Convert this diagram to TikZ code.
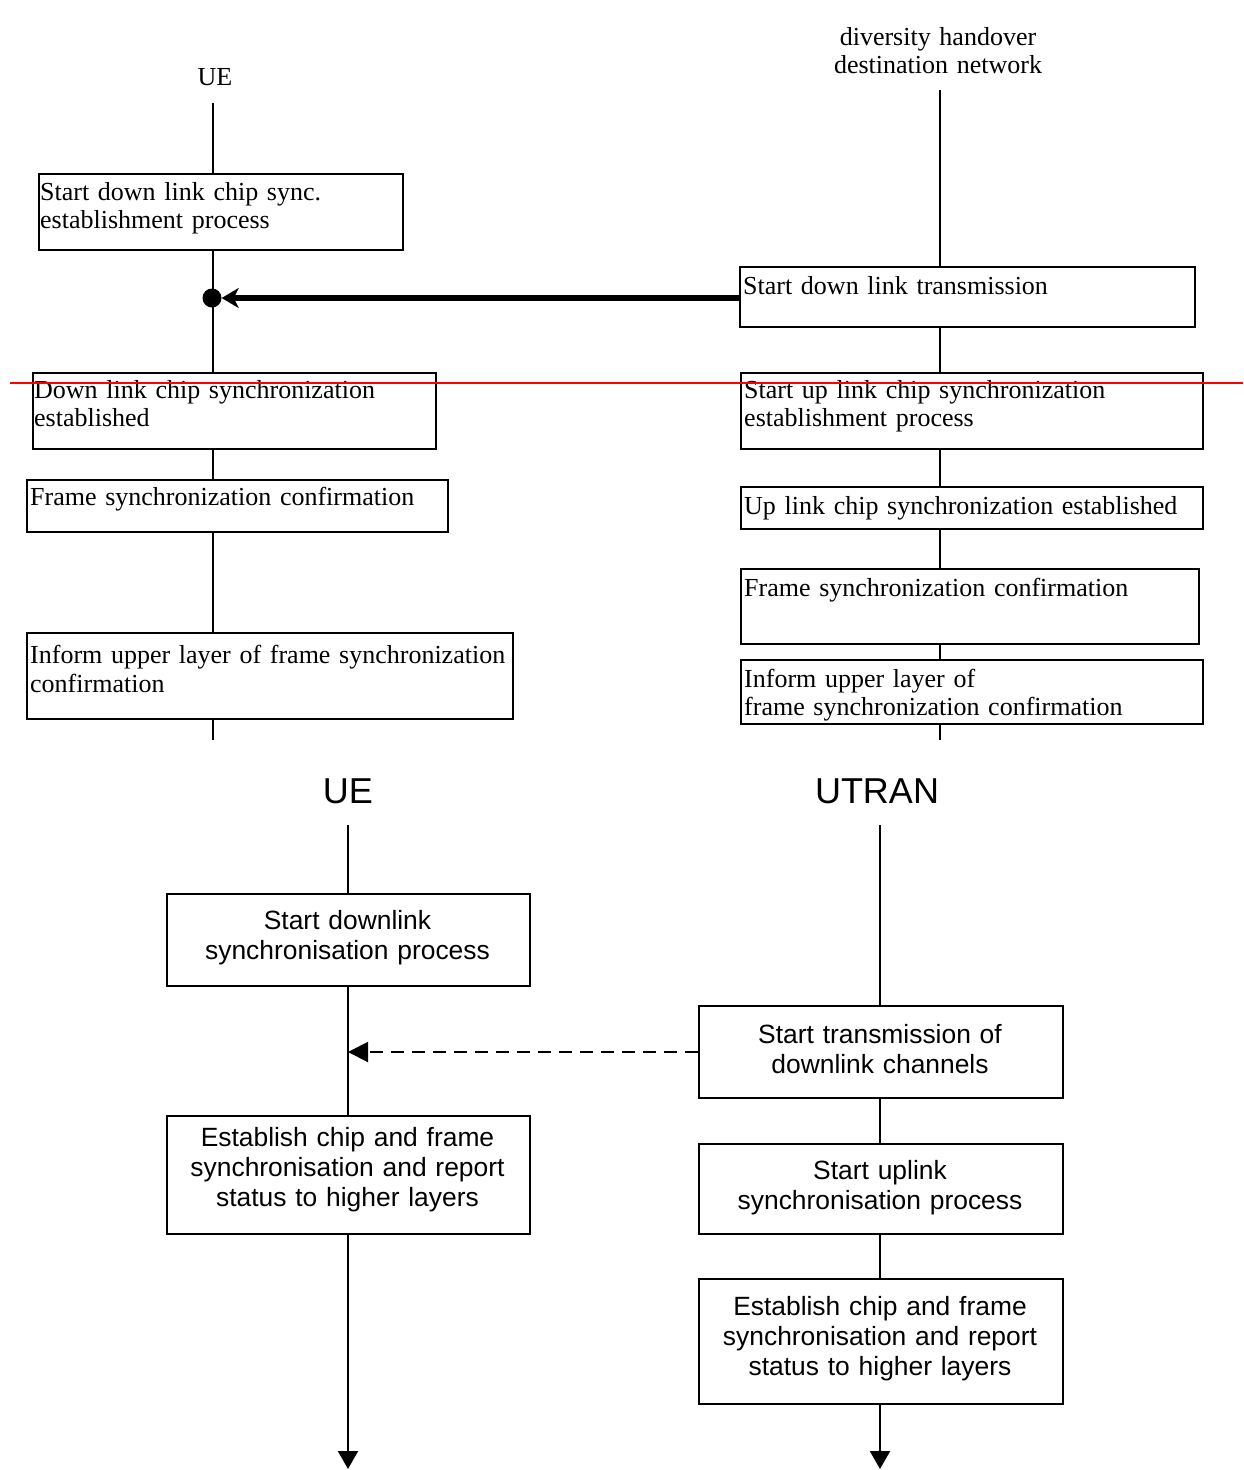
\documentclass[tikz,border=0pt]{standalone}
\usepackage{fontspec}
\setmainfont{Liberation Serif}
\setsansfont{Liberation Sans}
\usetikzlibrary{arrows.meta}
\begin{document}
\begin{tikzpicture}[x=1pt,y=-1pt,
  lif/.style={line width=2pt},
  tbox/.style={draw, line width=1.5pt, inner sep=0pt, anchor=north west},
  bbox/.style={draw, line width=2pt, inner sep=0pt, anchor=north west},
  st/.style={inner sep=0pt, anchor=base west, align=left, text width=560pt, font=\fontsize{26}{28}\selectfont},
  stc/.style={inner sep=0pt, anchor=base, align=center, text width=360pt, font=\fontsize{26}{28}\selectfont},
  ss/.style={inner sep=0pt, anchor=base, align=center, text width=360pt, font=\sffamily\fontsize{26.4}{30}\selectfont},
  big/.style={inner sep=0pt, anchor=base, font=\sffamily\fontsize{36}{40}\selectfont},
  msgtip/.style={-{Triangle[length=20pt,width=20pt]}},
]
\useasboundingbox (0,0) rectangle (1243,1470);

% ---------- top section ----------
\node[stc] (lUE) at (215,85) {UE};
\node[stc] (lDH) at (938,45) {diversity handover\\destination network};

\node[tbox, minimum width=364, minimum height=76] (b1) at (38,173) {};
\node[tbox, minimum width=403, minimum height=76] (b2) at (32,372) {};
\node[tbox, minimum width=421, minimum height=52] (b3) at (26,479) {};
\node[tbox, minimum width=486, minimum height=86] (b4) at (26,632) {};

\node[st] (t1) at (40,200) {Start down link chip sync.\\establishment process};
\node[st] (t2) at (34,398) {Down link chip synchronization\\established};
\node[st] (t3) at (30,505) {Frame synchronization confirmation};
\node[st] (t4) at (30,663) {Inform upper layer of frame synchronization\\[1pt]confirmation};

\node[tbox, minimum width=455, minimum height=60] (r1) at (739,266) {};
\node[tbox, minimum width=462, minimum height=76] (r2) at (740,372) {};
\node[tbox, minimum width=462, minimum height=42] (r3) at (740,486) {};
\node[tbox, minimum width=458, minimum height=75] (r4) at (740,568) {};
\node[tbox, minimum width=462, minimum height=64] (r5) at (740,659) {};

\node[st] (u1) at (743,294) {Start down link transmission};
\node[st] (u2) at (744,398) {Start up link chip synchronization\\establishment process};
\node[st] (u3) at (744,514) {Up link chip synchronization established};
\node[st] (u4) at (744,596) {Frame synchronization confirmation};
\node[st] (u5) at (744,687) {Inform upper layer of\\frame synchronization confirmation};

\coordinate (ueA) at (213,103);
\coordinate (ueZ) at (213,740);
\draw[lif] (ueA) -- (ueA |- b1.north);
\draw[lif] (ueA |- b1.south) -- (ueA |- b2.north);
\draw[lif] (ueA |- b2.south) -- (ueA |- b3.north);
\draw[lif] (ueA |- b3.south) -- (ueA |- b4.north);
\draw[lif] (ueA |- b4.south) -- (ueZ);

\coordinate (dhA) at (940,90);
\coordinate (dhZ) at (940,740);
\draw[lif] (dhA) -- (dhA |- r1.north);
\draw[lif] (dhA |- r1.south) -- (dhA |- r2.north);
\draw[lif] (dhA |- r2.south) -- (dhA |- r3.north);
\draw[lif] (dhA |- r3.south) -- (dhA |- r4.north);
\draw[lif] (dhA |- r4.south) -- (dhA |- r5.north);
\draw[lif] (dhA |- r5.south) -- (dhZ);

\node[circle, fill, inner sep=0pt, minimum size=19] (dot) at (212,298) {};
\draw[line width=6pt, -{Stealth[length=17pt,width=20pt,inset=5pt]}] (r1.west |- dot) -- (dot.east);

% ---------- bottom section ----------
\node[big] (bUE) at (348,803) {UE};
\node[big] (bUT) at (877,803) {UTRAN};

\node[bbox, minimum width=363, minimum height=92] (B1) at (166,893) {};
\node[bbox, minimum width=363, minimum height=118] (B2) at (166,1115) {};
\node[bbox, minimum width=364, minimum height=92] (B3) at (698,1005) {};
\node[bbox, minimum width=364, minimum height=90] (B4) at (698,1143) {};
\node[bbox, minimum width=364, minimum height=125] (B5) at (698,1278) {};

\node[ss] (s1) at (347.5,929) {Start downlink\\synchronisation process};
\node[ss] (s2) at (347.5,1146) {Establish chip and frame\\synchronisation and report\\status to higher layers};
\node[ss] (s3) at (880,1043) {Start transmission of\\downlink channels};
\node[ss] (s4) at (880,1179) {Start uplink\\synchronisation process};
\node[ss] (s5) at (880,1315) {Establish chip and frame\\synchronisation and report\\status to higher layers};

\coordinate (ueB) at (348,825);
\coordinate (ueBZ) at (348,1469);
\draw[lif] (ueB) -- (ueB |- B1.north);
\draw[lif] (ueB |- B1.south) -- (ueB |- B2.north);
\draw[lif, -{Triangle[length=18pt,width=20pt]}] (ueB |- B2.south) -- (ueBZ);

\coordinate (utA) at (880,825);
\coordinate (utZ) at (880,1469);
\draw[lif] (utA) -- (utA |- B3.north);
\draw[lif] (utA |- B3.south) -- (utA |- B4.north);
\draw[lif] (utA |- B4.south) -- (utA |- B5.north);
\draw[lif, -{Triangle[length=18pt,width=20pt]}] (utA |- B5.south) -- (utZ);

\draw[lif, msgtip, dash pattern=on 13pt off 8pt] (B3.west) -- (B3.west -| ueB);

% ---------- red line ----------
\coordinate (redA) at (10,383);
\coordinate (redB) at (1243,383);
\draw[red, line width=2pt] (redA) -- (redB);
\end{tikzpicture}
\end{document}
